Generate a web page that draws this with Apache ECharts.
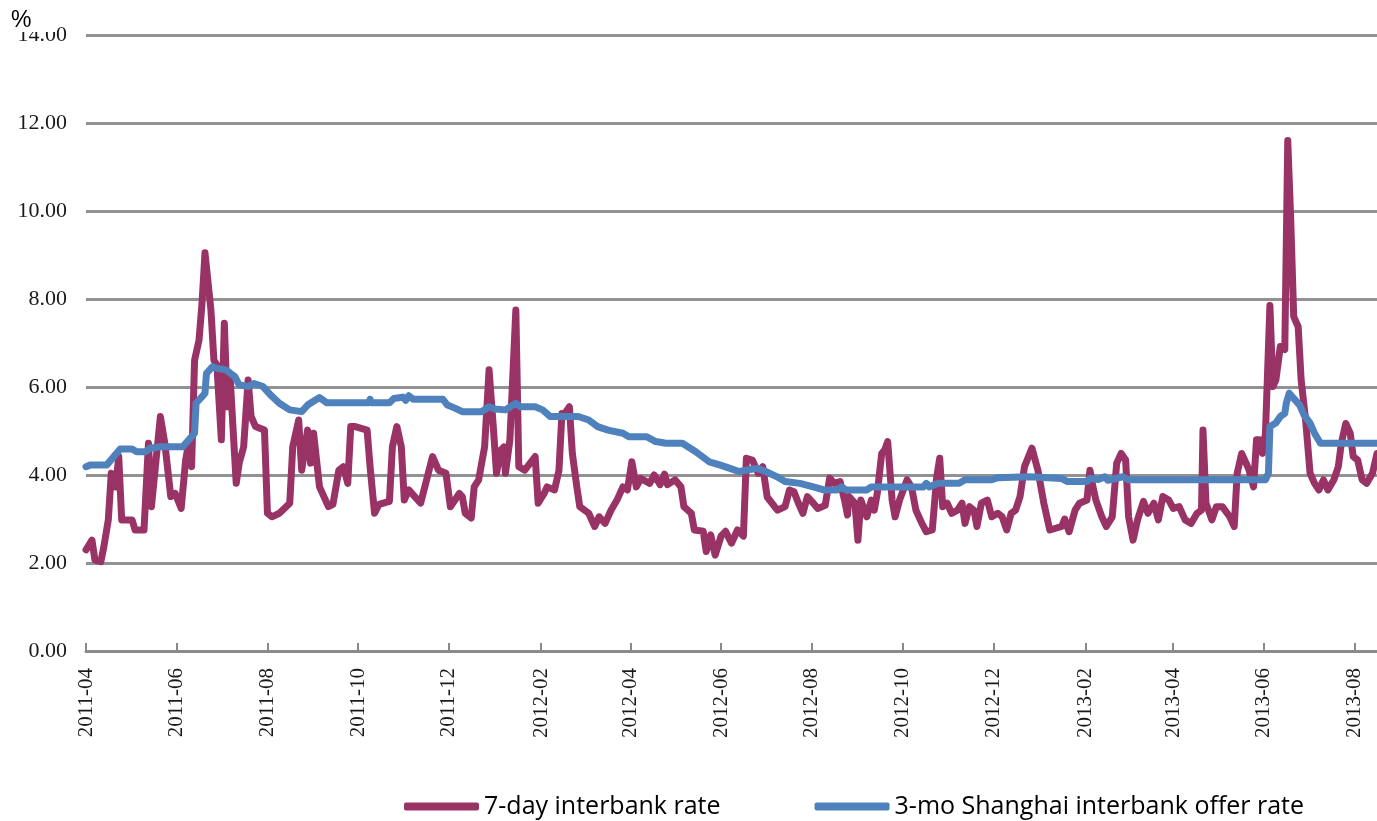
<!DOCTYPE html>
<html>
<head>
<meta charset="utf-8">
<script src="https://cdn.jsdelivr.net/npm/echarts@6/dist/echarts.min.js"></script>
<style>
  html, body { margin: 0; padding: 0; background: #ffffff; }
  #chart { width: 1377px; height: 821px; }
</style>
</head>
<body>
<div id="chart"></div>
<script>
// Calendar span of the horizontal axis (one category per day)
const startDate = '2011-04-01';
const endDate = '2013-08-16';

// Series names
const repoName = '7-day interbank rate';
const shiborName = '3-mo Shanghai interbank offer rate';

// 7-day interbank repo rate, %
const repoDates = [
  '2011-04-01','2011-04-05','2011-04-07','2011-04-11','2011-04-13','2011-04-16','2011-04-18','2011-04-21','2011-04-23','2011-04-25',
  '2011-05-02','2011-05-04','2011-05-10','2011-05-13','2011-05-15','2011-05-21','2011-05-24','2011-05-28','2011-05-31','2011-06-04',
  '2011-06-07','2011-06-09','2011-06-11','2011-06-13','2011-06-16','2011-06-18','2011-06-20','2011-06-24','2011-06-26','2011-06-28',
  '2011-07-01','2011-07-03','2011-07-05','2011-07-07','2011-07-11','2011-07-13','2011-07-16','2011-07-19','2011-07-21','2011-07-24',
  '2011-07-30','2011-08-01','2011-08-04','2011-08-09','2011-08-16','2011-08-18','2011-08-22','2011-08-24','2011-08-28','2011-08-30',
  '2011-09-01','2011-09-05','2011-09-11','2011-09-14','2011-09-18','2011-09-21','2011-09-24','2011-09-26','2011-09-29','2011-10-07',
  '2011-10-09','2011-10-12','2011-10-15','2011-10-22','2011-10-24','2011-10-27','2011-10-30','2011-11-01','2011-11-04','2011-11-08',
  '2011-11-12','2011-11-20','2011-11-24','2011-11-29','2011-12-02','2011-12-08','2011-12-10','2011-12-12','2011-12-16','2011-12-18',
  '2011-12-21','2011-12-25','2011-12-28','2011-12-31','2012-01-02','2012-01-05','2012-01-07','2012-01-08','2012-01-11','2012-01-15',
  '2012-01-17','2012-01-21','2012-01-28','2012-01-30','2012-02-03','2012-02-05','2012-02-10','2012-02-13','2012-02-15','2012-02-17',
  '2012-02-20','2012-02-22','2012-02-25','2012-02-27','2012-03-04','2012-03-08','2012-03-11','2012-03-15','2012-03-19','2012-03-23',
  '2012-03-27','2012-03-30','2012-04-02','2012-04-05','2012-04-08','2012-04-14','2012-04-17','2012-04-21','2012-04-24','2012-04-26',
  '2012-05-01','2012-05-05','2012-05-07','2012-05-12','2012-05-14','2012-05-20','2012-05-22','2012-05-25','2012-05-28','2012-06-01',
  '2012-06-04','2012-06-08','2012-06-12','2012-06-16','2012-06-18','2012-06-22','2012-06-26','2012-06-29','2012-07-02','2012-07-07',
  '2012-07-09','2012-07-14','2012-07-17','2012-07-20','2012-07-23','2012-07-26','2012-07-29','2012-08-02','2012-08-05','2012-08-10',
  '2012-08-13','2012-08-16','2012-08-20','2012-08-23','2012-08-25','2012-08-26','2012-08-30','2012-09-01','2012-09-03','2012-09-07',
  '2012-09-10','2012-09-12','2012-09-14','2012-09-17','2012-09-19','2012-09-21','2012-09-24','2012-09-26','2012-09-29','2012-10-04',
  '2012-10-07','2012-10-10','2012-10-14','2012-10-17','2012-10-21','2012-10-24','2012-10-26','2012-10-28','2012-10-31','2012-11-03',
  '2012-11-07','2012-11-10','2012-11-12','2012-11-15','2012-11-18','2012-11-20','2012-11-23','2012-11-27','2012-11-30','2012-12-04',
  '2012-12-07','2012-12-10','2012-12-13','2012-12-16','2012-12-19','2012-12-22','2012-12-27','2012-12-31','2013-01-04','2013-01-08',
  '2013-01-12','2013-01-16','2013-01-18','2013-01-21','2013-01-25','2013-01-28','2013-02-02','2013-02-04','2013-02-06','2013-02-08',
  '2013-02-12','2013-02-15','2013-02-19','2013-02-22','2013-02-25','2013-02-28','2013-03-02','2013-03-05','2013-03-08','2013-03-12',
  '2013-03-15','2013-03-19','2013-03-22','2013-03-25','2013-03-29','2013-04-01','2013-04-05','2013-04-09','2013-04-13','2013-04-17',
  '2013-04-20','2013-04-21','2013-04-23','2013-04-27','2013-04-30','2013-05-04','2013-05-09','2013-05-12','2013-05-14','2013-05-17',
  '2013-05-20','2013-05-22','2013-05-25','2013-05-27','2013-05-29','2013-05-31','2013-06-02','2013-06-05','2013-06-07','2013-06-09',
  '2013-06-12','2013-06-15','2013-06-17','2013-06-19','2013-06-21','2013-06-24','2013-06-26','2013-06-29','2013-07-02','2013-07-05',
  '2013-07-08','2013-07-11','2013-07-14','2013-07-18','2013-07-21','2013-07-23','2013-07-26','2013-07-29','2013-07-31','2013-08-03',
  '2013-08-06','2013-08-09','2013-08-13','2013-08-16'
];
const repoValues = [
  2.30, 2.52, 2.07, 2.03, 2.37, 2.98, 4.04, 3.73, 4.42, 2.98,
  2.98, 2.75, 2.75, 4.72, 3.28, 5.33, 4.72, 3.51, 3.58, 3.24,
  4.34, 4.72, 4.19, 6.61, 7.07, 7.90, 9.05, 7.75, 6.61, 6.50,
  4.80, 7.45, 5.55, 6.16, 3.81, 4.27, 4.64, 6.16, 5.33, 5.10,
  5.02, 3.13, 3.05, 3.13, 3.36, 4.64, 5.25, 4.11, 5.02, 4.27,
  4.95, 3.73, 3.28, 3.33, 4.11, 4.19, 3.81, 5.10, 5.10, 5.02,
  4.19, 3.13, 3.33, 3.40, 4.64, 5.10, 4.64, 3.43, 3.66, 3.51,
  3.36, 4.42, 4.11, 4.04, 3.28, 3.58, 3.51, 3.13, 3.02, 3.73,
  3.89, 4.64, 6.39, 5.02, 4.04, 4.57, 4.64, 4.04, 4.80, 7.75,
  4.19, 4.11, 4.42, 3.36, 3.58, 3.73, 3.66, 4.11, 5.40, 5.40,
  5.55, 4.49, 3.73, 3.28, 3.13, 2.83, 3.05, 2.90, 3.20, 3.43,
  3.73, 3.66, 4.30, 3.73, 3.92, 3.81, 4.00, 3.78, 4.02, 3.78,
  3.89, 3.73, 3.28, 3.13, 2.75, 2.72, 2.26, 2.64, 2.18, 2.61,
  2.72, 2.45, 2.75, 2.61, 4.38, 4.34, 4.04, 4.19, 3.50, 3.28,
  3.20, 3.28, 3.66, 3.62, 3.36, 3.13, 3.51, 3.36, 3.24, 3.31,
  3.93, 3.81, 3.85, 3.43, 3.09, 3.51, 3.36, 2.52, 3.43, 3.05,
  3.43, 3.20, 3.58, 4.49, 4.57, 4.76, 3.43, 3.05, 3.43, 3.89,
  3.73, 3.20, 2.90, 2.71, 2.75, 3.96, 4.38, 3.28, 3.36, 3.13,
  3.20, 3.36, 2.90, 3.28, 3.20, 2.83, 3.36, 3.43, 3.05, 3.13,
  3.05, 2.75, 3.13, 3.20, 3.51, 4.19, 4.61, 4.11, 3.36, 2.75,
  2.79, 2.83, 3.00, 2.71, 3.20, 3.36, 3.43, 4.11, 3.73, 3.43,
  3.05, 2.83, 3.05, 4.27, 4.49, 4.34, 3.05, 2.52, 2.98, 3.40,
  3.13, 3.36, 2.98, 3.51, 3.43, 3.24, 3.28, 2.98, 2.90, 3.13,
  3.20, 5.02, 3.36, 2.98, 3.28, 3.28, 3.05, 2.83, 4.04, 4.49,
  4.27, 4.11, 3.73, 4.80, 4.80, 4.49, 4.95, 7.85, 6.01, 6.16,
  6.92, 6.85, 11.60, 9.80, 7.60, 7.37, 6.16, 5.25, 4.04, 3.81,
  3.66, 3.89, 3.66, 3.89, 4.19, 4.72, 5.17, 4.95, 4.42, 4.34,
  3.89, 3.81, 4.04, 4.49
];

// 3-month SHIBOR, %
const shiborDates = [
  '2011-04-01','2011-04-04','2011-04-15','2011-04-24','2011-05-02','2011-05-05','2011-05-11','2011-05-14','2011-05-21','2011-06-05',
  '2011-06-13','2011-06-14','2011-06-18','2011-06-20','2011-06-21','2011-06-25','2011-06-29','2011-07-04','2011-07-10','2011-07-13',
  '2011-07-19','2011-07-23','2011-07-29','2011-08-03','2011-08-09','2011-08-16','2011-08-24','2011-08-28','2011-09-02','2011-09-05',
  '2011-09-10','2011-10-08','2011-10-09','2011-10-10','2011-10-22','2011-10-25','2011-10-31','2011-11-02','2011-11-04','2011-11-07',
  '2011-11-27','2011-11-30','2011-12-05','2011-12-10','2011-12-23','2011-12-28','2012-01-01','2012-01-08','2012-01-15','2012-01-18',
  '2012-01-28','2012-02-02','2012-02-07','2012-02-26','2012-03-04','2012-03-10','2012-03-17','2012-03-27','2012-03-31','2012-04-12',
  '2012-04-18','2012-04-25','2012-05-06','2012-05-15','2012-05-24','2012-05-31','2012-06-07','2012-06-13','2012-06-25','2012-07-01',
  '2012-07-08','2012-07-14','2012-07-24','2012-08-02','2012-08-09','2012-08-18','2012-08-21','2012-08-24','2012-09-07','2012-09-10',
  '2012-10-15','2012-10-17','2012-10-19','2012-10-25','2012-11-08','2012-11-12','2012-11-30','2012-12-04','2012-12-25','2013-01-16',
  '2013-01-20','2013-02-02','2013-02-04','2013-02-10','2013-02-14','2013-02-16','2013-02-26','2013-03-02','2013-06-02','2013-06-04',
  '2013-06-05','2013-06-09','2013-06-12','2013-06-15','2013-06-16','2013-06-18','2013-06-21','2013-06-25','2013-06-28','2013-07-02',
  '2013-07-05','2013-07-09','2013-08-16'
];
const shiborValues = [
  4.19, 4.23, 4.23, 4.59, 4.59, 4.53, 4.53, 4.61, 4.64, 4.64,
  4.95, 5.63, 5.78, 5.86, 6.31, 6.46, 6.42, 6.39, 6.24, 6.05,
  6.01, 6.08, 6.01, 5.82, 5.63, 5.48, 5.44, 5.59, 5.70, 5.76,
  5.64, 5.64, 5.72, 5.64, 5.64, 5.74, 5.77, 5.70, 5.80, 5.72,
  5.72, 5.59, 5.52, 5.44, 5.44, 5.55, 5.50, 5.48, 5.63, 5.55,
  5.55, 5.48, 5.33, 5.33, 5.25, 5.10, 5.02, 4.95, 4.87, 4.87,
  4.76, 4.72, 4.72, 4.53, 4.30, 4.23, 4.15, 4.08, 4.15, 4.08,
  3.97, 3.85, 3.81, 3.73, 3.66, 3.66, 3.73, 3.66, 3.66, 3.73,
  3.73, 3.81, 3.73, 3.81, 3.81, 3.89, 3.89, 3.94, 3.96, 3.92,
  3.85, 3.85, 3.92, 3.90, 3.96, 3.88, 3.96, 3.89, 3.89, 4.04,
  5.10, 5.18, 5.33, 5.40, 5.63, 5.86, 5.74, 5.59, 5.36, 5.18,
  4.95, 4.72, 4.72
];

// Daily category list for the x axis
function buildDays(from, to) {
  const out = [];
  const d = new Date(from + 'T00:00:00Z');
  const last = new Date(to + 'T00:00:00Z');
  while (d <= last) {
    out.push(d.toISOString().slice(0, 10));
    d.setUTCDate(d.getUTCDate() + 1);
  }
  return out;
}
const days = buildDays(startDate, endDate);
const dayIndex = {};
days.forEach((d, i) => { dayIndex[d] = i; });

function toPoints(dates, values) {
  return dates.map((d, i) => [dayIndex[d], values[i]]);
}

// Labels and ticks on the first day of every even month
function isMarkDay(index, value) {
  const month = parseInt(value.slice(5, 7), 10);
  return value.slice(8) === '01' && month % 2 === 0;
}

const axisGray = '#8a8a8a';
const serifFont = '"Liberation Serif", "DejaVu Serif", serif';

const chart = echarts.init(document.getElementById('chart'), null, { renderer: 'canvas' });
chart.setOption({
  animation: false,
  backgroundColor: '#ffffff',
  grid: { left: 86, right: 0, top: 35, bottom: 170, containLabel: false },
  legend: {
    left: 399,
    top: 789,
    itemWidth: 75,
    itemHeight: 8,
    itemGap: 94,
    icon: 'roundRect',
    textStyle: { fontFamily: '"Open Sans", sans-serif', fontSize: 25, color: '#000000' },
    data: [repoName, shiborName]
  },
  xAxis: {
    type: 'category',
    data: days,
    boundaryGap: false,
    axisLine: { lineStyle: { color: axisGray, width: 3 } },
    axisTick: { show: true, inside: true, length: 8, interval: isMarkDay, lineStyle: { color: axisGray, width: 2 } },
    axisLabel: {
      interval: isMarkDay,
      rotate: 90,
      margin: 17,
      formatter: v => v.slice(0, 7),
      fontFamily: serifFont,
      fontSize: 21,
      color: '#1a1a1a'
    },
    splitLine: { show: false }
  },
  yAxis: {
    type: 'value',
    min: 0,
    max: 14,
    interval: 2,
    axisLine: { show: false },
    axisTick: { show: false },
    axisLabel: {
      margin: 19,
      formatter: v => v.toFixed(2),
      fontFamily: serifFont,
      fontSize: 22,
      color: '#1a1a1a'
    },
    splitLine: { lineStyle: { color: '#929292', width: 3 } }
  },
  graphic: [
    { type: 'rect', left: 0, top: 0, z: 100, shape: { width: 56, height: 32 }, style: { fill: '#ffffff' } },
    { type: 'text', left: 11, top: 9, z: 101, style: { text: '%', fill: '#000000', font: '23px "Liberation Sans", Arial, sans-serif' } }
  ],
  series: [
    {
      name: repoName,
      type: 'line',
      data: toPoints(repoDates, repoValues),
      showSymbol: false,
      symbol: 'none',
      color: '#993366',
      lineStyle: { width: 7, color: '#993366', join: 'round', cap: 'round' },
      z: 2
    },
    {
      name: shiborName,
      type: 'line',
      data: toPoints(shiborDates, shiborValues),
      showSymbol: false,
      symbol: 'none',
      color: '#4f81bd',
      lineStyle: { width: 7, color: '#4f81bd', join: 'round', cap: 'round' },
      z: 3
    }
  ]
});
</script>
</body>
</html>
